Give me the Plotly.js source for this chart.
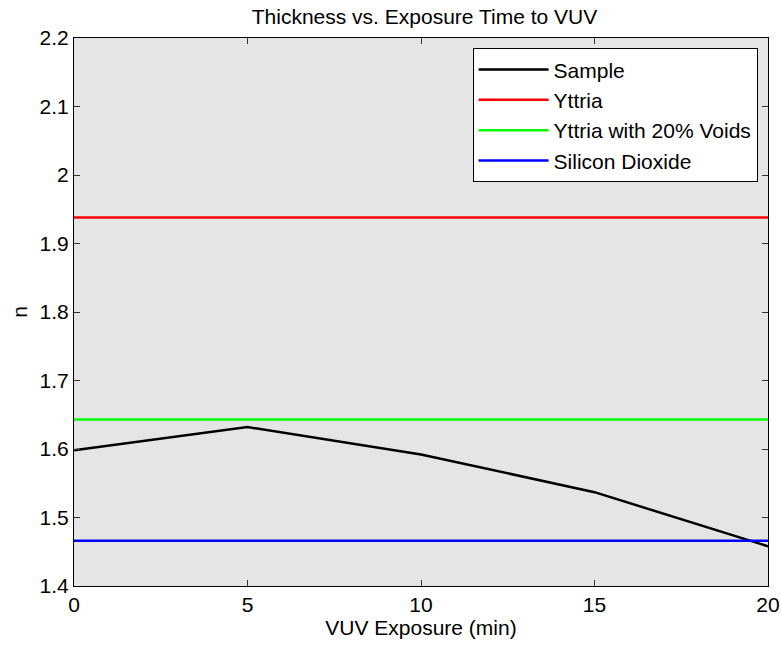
<!DOCTYPE html>
<html><head><meta charset="utf-8">
<script src="https://cdn.plot.ly/plotly-3.0.1.min.js"></script>
<style>body{margin:0;background:#fff}#c{width:781px;height:646px}</style>
</head><body><div id="c"></div>
<script>
const exposure = [0, 5, 10, 15, 20];
const sampleN = [1.598, 1.632, 1.592, 1.537, 1.458];
const xRange = [0, 20];
const yttriaN = 1.938;
const yttriaVoidsN = 1.643;
const sio2N = 1.466;
const seriesNames = ["Sample", "Yttria", "Yttria with 20% Voids", "Silicon Dioxide"];
const seriesColors = ["#000000", "#ff0000", "#00ff00", "#0000ff"];

const traces = [
  {x: exposure, y: sampleN, name: seriesNames[0]},
  {x: xRange, y: [yttriaN, yttriaN], name: seriesNames[1]},
  {x: xRange, y: [yttriaVoidsN, yttriaVoidsN], name: seriesNames[2]},
  {x: xRange, y: [sio2N, sio2N], name: seriesNames[3]}
].map((t, i) => Object.assign(t, {type: 'scatter', mode: 'lines', line: {color: seriesColors[i], width: 2.5}}));

const font = {family: 'Liberation Sans, Arial, sans-serif', color: '#000'};
const fs = 21;
const layout = {
  width: 781, height: 646,
  margin: {l: 74, r: 13, t: 38, b: 60},
  paper_bgcolor: '#fff', plot_bgcolor: '#e5e5e5',
  font: Object.assign({size: fs}, font),
  title: {text: 'Thickness vs. Exposure Time to VUV', font: Object.assign({size: 21}, font), xref: 'paper', x: 0.505, xanchor: 'center', y: 0.975, yanchor: 'middle'},
  xaxis: {range: xRange, tickvals: [0, 5, 10, 15, 20], ticks: 'inside', ticklen: 6, tickcolor: '#333',
    showline: true, linecolor: '#000', linewidth: 1, mirror: 'ticks', showgrid: false, zeroline: false,
    tickfont: Object.assign({size: fs}, font),
    title: {text: 'VUV Exposure (min)', font: Object.assign({size: fs}, font), standoff: 0}},
  yaxis: {range: [1.4, 2.2], tickvals: [1.4,1.5,1.6,1.7,1.8,1.9,2,2.1,2.2], ticktext: ['1.4','1.5','1.6','1.7','1.8','1.9','2','2.1','2.2'],
    ticks: 'inside', ticklen: 6, tickcolor: '#333',
    showline: true, linecolor: '#000', linewidth: 1, mirror: 'ticks', showgrid: false, zeroline: false,
    tickfont: Object.assign({size: fs}, font),
    title: {text: 'n', font: Object.assign({size: fs}, font), standoff: 6}},
  legend: {x: 0.985, y: 0.981, xanchor: 'right', yanchor: 'top', bgcolor: '#fff', bordercolor: '#000', borderwidth: 1,
    font: Object.assign({size: fs}, font), tracegroupgap: 0, itemwidth: 70},
  showlegend: true
};
Plotly.newPlot('c', traces, layout, {displayModeBar: false, staticPlot: true});
</script></body></html>
